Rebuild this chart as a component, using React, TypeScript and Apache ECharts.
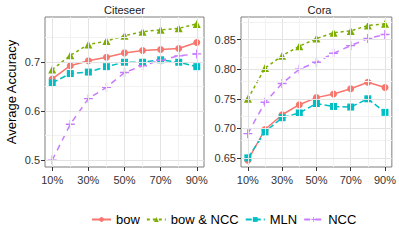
import React, { useEffect, useRef } from "react";
import * as echarts from "echarts";

const PCTS = [10, 20, 30, 40, 50, 60, 70, 80, 90];
const SERIES_NAMES = ["bow", "bow & NCC", "MLN", "NCC"];

const citeseerBow = [0.665, 0.692, 0.702, 0.709, 0.718, 0.723, 0.725, 0.727, 0.739];
const citeseerBowNcc = [0.684, 0.713, 0.735, 0.742, 0.753, 0.761, 0.765, 0.768, 0.777];
const citeseerMln = [0.657, 0.676, 0.679, 0.69, 0.699, 0.699, 0.704, 0.699, 0.69];
const citeseerNcc = [0.5, 0.573, 0.625, 0.648, 0.678, 0.692, 0.703, 0.712, 0.716];

const coraBow = [0.646, 0.698, 0.723, 0.74, 0.752, 0.758, 0.767, 0.778, 0.769];
const coraBowNcc = [0.75, 0.802, 0.823, 0.839, 0.852, 0.862, 0.865, 0.874, 0.877];
const coraMln = [0.65, 0.694, 0.718, 0.726, 0.742, 0.737, 0.736, 0.75, 0.727];
const coraNcc = [0.691, 0.744, 0.776, 0.8, 0.812, 0.827, 0.84, 0.852, 0.859];

const X_TICKS = [10, 30, 50, 70, 90];
const X_MINOR = [20, 40, 60, 80];
const CITESEER_TICKS = [0.5, 0.6, 0.7];
const CITESEER_MINOR = [0.55, 0.65, 0.75];
const CORA_TICKS = [0.65, 0.7, 0.75, 0.8, 0.85];
const CORA_MINOR = [0.675, 0.725, 0.775, 0.825, 0.875];

const COLORS = ["#F8766D", "#7CAE00", "#00BFC4", "#C77CFF"];
const FONT = "'Liberation Sans', Arial, Helvetica, sans-serif";
const PLUS = "path://M4.2,0H5.8V10H4.2Z M0,4.2H10V5.8H0Z";

export default function App() {
  const ref = useRef<HTMLDivElement>(null);
  useEffect(() => {
    if (!ref.current) return;
    const chart = echarts.init(ref.current, undefined, { renderer: "svg" });

    const styles = [
      { symbol: "circle", symbolSize: 7, type: "solid" as any },
      { symbol: "triangle", symbolSize: 8, type: [3, 3] as any },
      { symbol: "rect", symbolSize: 7, type: [6, 3] as any },
      { symbol: PLUS, symbolSize: 9, type: [6, 5] as any },
    ];

    const panels = [
      { data: [citeseerBow, citeseerBowNcc, citeseerMln, citeseerNcc], yMajor: CITESEER_TICKS, yMinor: CITESEER_MINOR },
      { data: [coraBow, coraBowNcc, coraMln, coraNcc], yMajor: CORA_TICKS, yMinor: CORA_MINOR },
    ];

    const series: any[] = [];
    panels.forEach((p, gi) => {
      const gridLines: any[] = [];
      X_MINOR.forEach((v) => gridLines.push({ xAxis: v, lineStyle: { color: "#f2f2f2", width: 1, type: "solid" } }));
      p.yMinor.forEach((v) => gridLines.push({ yAxis: v, lineStyle: { color: "#f2f2f2", width: 1, type: "solid" } }));
      X_TICKS.forEach((v) => gridLines.push({ xAxis: v, lineStyle: { color: "#e3e3e3", width: 1, type: "solid" } }));
      p.yMajor.forEach((v) => gridLines.push({ yAxis: v, lineStyle: { color: "#e3e3e3", width: 1, type: "solid" } }));
      series.push({
        type: "line",
        xAxisIndex: gi,
        yAxisIndex: gi,
        data: [],
        silent: true,
        z: 0,
        markLine: {
          silent: true,
          symbol: ["none", "none"],
          label: { show: false },
          animation: false,
          data: gridLines,
        },
      });
      p.data.forEach((arr, si) => {
        series.push({
          name: SERIES_NAMES[si],
          type: "line",
          xAxisIndex: gi,
          yAxisIndex: gi,
          z: 3,
          data: PCTS.map((x, i) => [x, arr[i]]),
          symbol: styles[si].symbol,
          symbolSize: styles[si].symbolSize,
          showAllSymbol: true,
          color: COLORS[si],
          itemStyle: { color: COLORS[si] },
          lineStyle: { color: COLORS[si], width: 1.5, type: styles[si].type },
        });
      });
    });

    const axisTextStyle = { color: "#333", fontSize: 11, fontFamily: FONT };

    const xAxis = [0, 1].map((gi) => ({
      type: "value",
      gridIndex: gi,
      min: 6,
      max: 94,
      axisLine: { show: false },
      axisTick: { show: true, length: 4, customValues: X_TICKS, lineStyle: { color: "#333", width: 1 } },
      axisLabel: { ...axisTextStyle, margin: 7, customValues: X_TICKS, formatter: (v: number) => v + "%" },
      splitLine: { show: false },
    }));

    const yAxis = [
      { min: 0.486, max: 0.791, ticks: CITESEER_TICKS, fmt: (v: number) => v.toFixed(1) },
      { min: 0.6345, max: 0.8885, ticks: CORA_TICKS, fmt: (v: number) => v.toFixed(2) },
    ].map((a, gi) => ({
      type: "value",
      gridIndex: gi,
      min: a.min,
      max: a.max,
      axisLine: { show: false },
      axisTick: { show: true, length: 4, customValues: a.ticks, lineStyle: { color: "#333", width: 1 } },
      axisLabel: { ...axisTextStyle, margin: 5, customValues: a.ticks, formatter: a.fmt },
      splitLine: { show: false },
    }));

    chart.setOption({
      animation: false,
      backgroundColor: "#ffffff",
      grid: [
        { left: 45, top: 17, width: 159, height: 150, show: true, borderColor: "#7f7f7f", borderWidth: 1, backgroundColor: "transparent", containLabel: false },
        { left: 241, top: 17, width: 157, height: 150, show: true, borderColor: "#7f7f7f", borderWidth: 1, backgroundColor: "transparent", containLabel: false },
      ],
      xAxis,
      yAxis,
      legend: {
        data: SERIES_NAMES,
        left: 91,
        top: 213,
        padding: 0,
        itemWidth: 19,
        itemHeight: 6,
        itemGap: 6,
        textStyle: { color: "#000", fontSize: 13, fontFamily: FONT },
      },
      graphic: [
        { type: "text", x: 124.5, y: 10, style: { text: "Citeseer", fill: "#1a1a1a", font: `11px ${FONT}`, textAlign: "center", textVerticalAlign: "middle" } },
        { type: "text", x: 319.5, y: 10, style: { text: "Cora", fill: "#1a1a1a", font: `11px ${FONT}`, textAlign: "center", textVerticalAlign: "middle" } },
        { type: "text", x: 11, y: 92, rotation: Math.PI / 2, style: { text: "Average Accuracy", fill: "#000", font: `13px ${FONT}`, textAlign: "center", textVerticalAlign: "middle" } },
      ],
      series,
    });
    return () => chart.dispose();
  }, []);
  return <div ref={ref} style={{ position: "absolute", left: 0, top: 0, width: 399, height: 249 }} />;
}
